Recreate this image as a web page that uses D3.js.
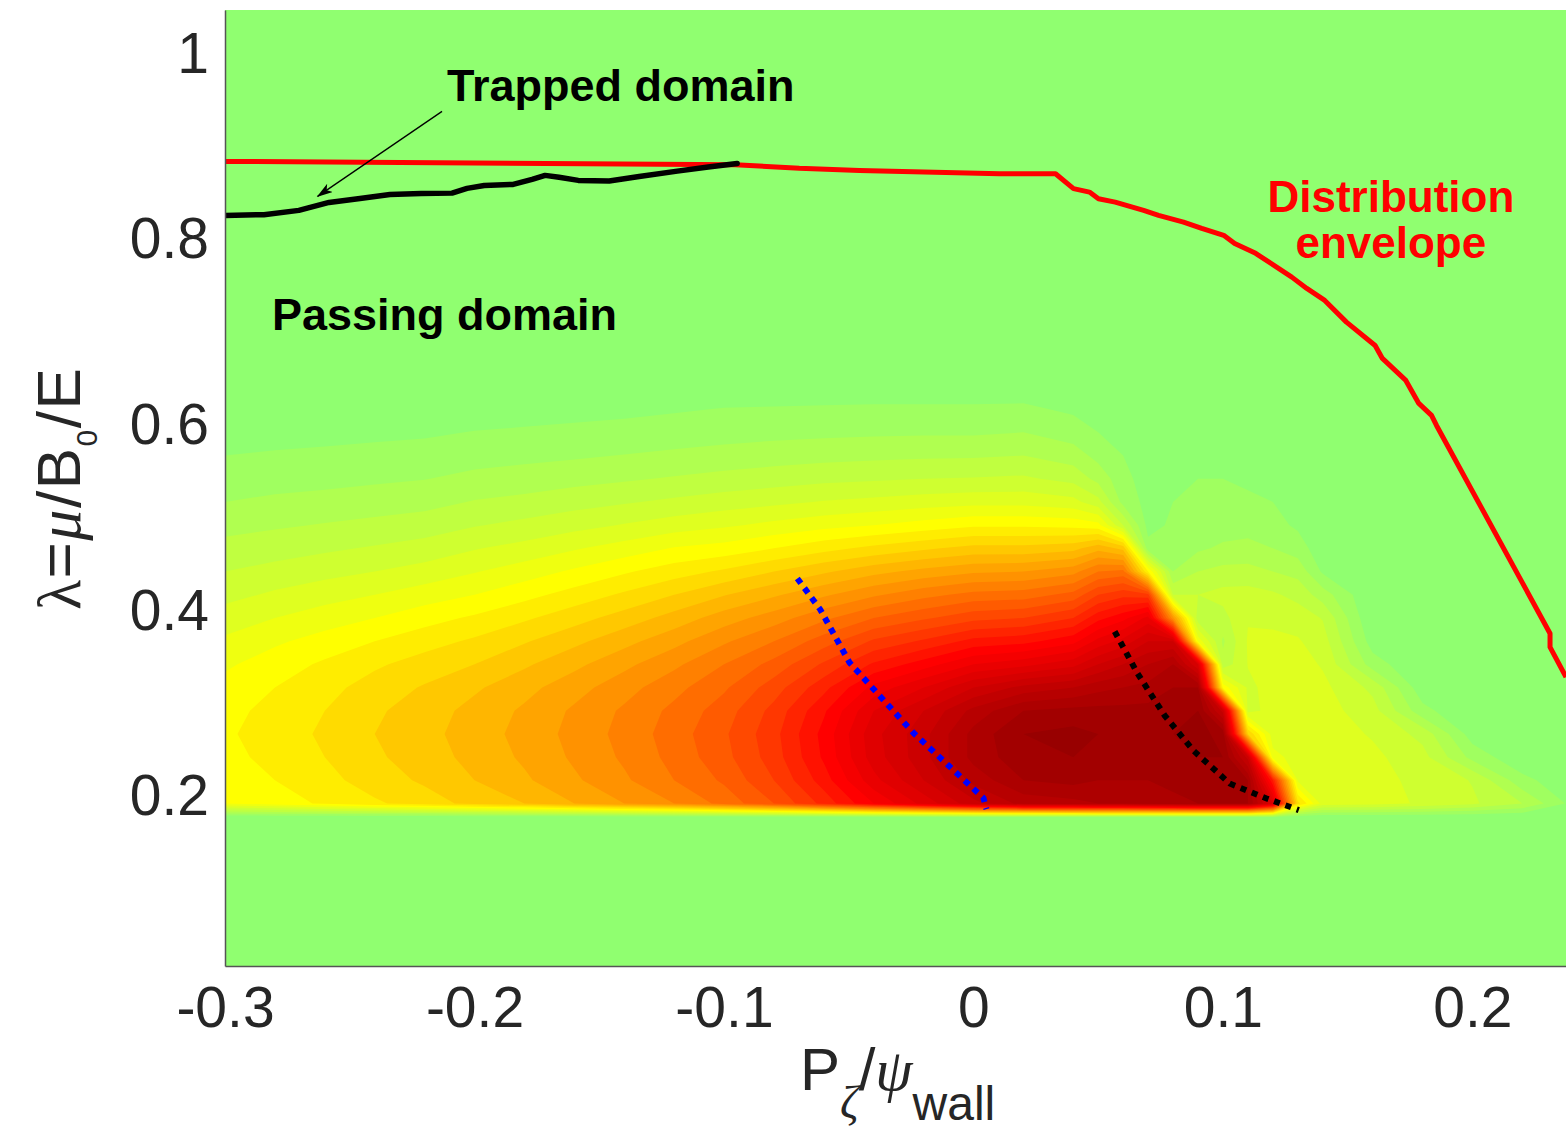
<!DOCTYPE html>
<html>
<head>
<meta charset="utf-8">
<script src="https://cdn.jsdelivr.net/npm/d3@7"></script>
<style>
  body { margin: 0; background: #fff; }
  svg { display: block; }
  text { font-family: "Liberation Sans", Arial, Helvetica, sans-serif; }
</style>
</head>
<body>
<svg id="chart" width="1566" height="1129"></svg>
<script>
// ---- axis ticks ----
const xTicks = [-0.3, -0.2, -0.1, 0, 0.1, 0.2];
const yTicks = [0.2, 0.4, 0.6, 0.8, 1];

// ---- sampled distribution f(P_zeta, lambda) ----
// P_zeta / psi_wall sample positions (columns)
const pGrid = [-0.30, -0.28, -0.26, -0.24, -0.22, -0.20, -0.18, -0.16, -0.14, -0.12,
               -0.10, -0.08, -0.06, -0.04, -0.02, 0.00, 0.02, 0.04, 0.05, 0.06,
                0.07, 0.08, 0.09, 0.10, 0.11, 0.12, 0.13, 0.14, 0.16, 0.18,
                0.20, 0.22, 0.24];
// lambda sample positions (rows, ascending)
const lambdaGrid = [0.19, 0.215, 0.24, 0.265, 0.29, 0.315, 0.34, 0.365, 0.39, 0.415,
                    0.44, 0.465, 0.49, 0.515, 0.54, 0.565, 0.59, 0.615, 0.64];
// below this lambda the distribution vanishes
const lambdaCut = 0.175;

// normalised distribution, one array per P column, lambda ascending
const density = [
  [0.21,0.22,0.23,0.235,0.23,0.22,0.205,0.185,0.165,0.14,0.12,0.10,0.08,0.06,0.045,0.03,0.018,0.008,0],
  [0.225,0.24,0.25,0.255,0.25,0.24,0.225,0.205,0.18,0.155,0.13,0.107,0.086,0.066,0.048,0.033,0.02,0.009,0],
  [0.245,0.26,0.27,0.275,0.27,0.26,0.245,0.222,0.195,0.168,0.14,0.115,0.092,0.07,0.051,0.035,0.022,0.01,0],
  [0.265,0.285,0.295,0.30,0.295,0.283,0.265,0.24,0.21,0.18,0.15,0.123,0.098,0.075,0.055,0.038,0.024,0.011,0],
  [0.285,0.305,0.315,0.32,0.315,0.303,0.283,0.258,0.228,0.195,0.162,0.132,0.105,0.08,0.059,0.041,0.026,0.012,0],
  [0.31,0.33,0.34,0.345,0.34,0.325,0.30,0.275,0.245,0.21,0.178,0.148,0.118,0.092,0.068,0.048,0.031,0.015,0],
  [0.33,0.355,0.365,0.37,0.365,0.35,0.325,0.297,0.265,0.23,0.195,0.16,0.128,0.099,0.073,0.052,0.034,0.017,0.002],
  [0.36,0.385,0.395,0.40,0.395,0.378,0.352,0.322,0.288,0.252,0.215,0.177,0.14,0.108,0.08,0.056,0.037,0.02,0.004],
  [0.39,0.415,0.425,0.43,0.425,0.408,0.382,0.35,0.313,0.275,0.236,0.193,0.152,0.117,0.086,0.061,0.04,0.023,0.006],
  [0.42,0.45,0.46,0.465,0.458,0.44,0.413,0.38,0.342,0.30,0.256,0.212,0.165,0.126,0.093,0.066,0.044,0.027,0.01],
  [0.46,0.485,0.50,0.505,0.495,0.475,0.45,0.415,0.375,0.328,0.275,0.222,0.175,0.135,0.10,0.071,0.048,0.031,0.013],
  [0.51,0.54,0.555,0.56,0.55,0.525,0.49,0.45,0.405,0.355,0.30,0.24,0.188,0.143,0.106,0.076,0.051,0.032,0.014],
  [0.58,0.615,0.635,0.64,0.625,0.59,0.545,0.495,0.443,0.385,0.325,0.26,0.20,0.152,0.112,0.08,0.053,0.033,0.015],
  [0.66,0.71,0.735,0.74,0.72,0.67,0.605,0.545,0.48,0.415,0.35,0.278,0.21,0.158,0.116,0.083,0.055,0.034,0.015],
  [0.73,0.78,0.80,0.80,0.78,0.72,0.645,0.575,0.505,0.44,0.37,0.295,0.222,0.165,0.12,0.085,0.056,0.034,0.015],
  [0.80,0.85,0.88,0.88,0.85,0.78,0.69,0.61,0.53,0.46,0.385,0.31,0.235,0.17,0.122,0.086,0.056,0.034,0.015],
  [0.85,0.90,0.92,0.93,0.90,0.82,0.71,0.62,0.54,0.465,0.39,0.31,0.235,0.17,0.125,0.09,0.06,0.035,0.015],
  [0.86,0.91,0.93,0.94,0.91,0.84,0.74,0.65,0.57,0.49,0.41,0.32,0.23,0.16,0.11,0.075,0.045,0.025,0.01],
  [0.87,0.90,0.92,0.93,0.91,0.86,0.78,0.70,0.62,0.54,0.45,0.35,0.22,0.13,0.08,0.05,0.03,0.015,0],
  [0.87,0.90,0.91,0.92,0.91,0.87,0.81,0.73,0.65,0.56,0.46,0.32,0.12,0.05,0.04,0.03,0.02,0.01,0],
  [0.88,0.90,0.91,0.92,0.91,0.88,0.84,0.78,0.70,0.55,0.24,0.04,0.02,0.02,0.015,0.01,0.005,0,0],
  [0.89,0.91,0.92,0.93,0.92,0.90,0.87,0.78,0.40,0.12,0.06,0.04,0.035,0.03,0.025,0.012,0,0,0],
  [0.90,0.92,0.93,0.94,0.93,0.90,0.75,0.20,0.10,0.12,0.09,0.055,0.042,0.036,0.03,0.018,0.005,0,0],
  [0.90,0.92,0.93,0.92,0.80,0.23,0.10,0.085,0.11,0.13,0.10,0.065,0.047,0.037,0.03,0.015,0,0,0],
  [0.90,0.90,0.80,0.30,0.14,0.145,0.151,0.153,0.148,0.132,0.10,0.07,0.047,0.035,0.025,0.01,0,0,0],
  [0.75,0.60,0.19,0.165,0.16,0.158,0.157,0.155,0.145,0.125,0.09,0.06,0.04,0.03,0.015,0,0,0,0],
  [0.28,0.175,0.168,0.167,0.166,0.164,0.162,0.153,0.137,0.11,0.08,0.045,0.025,0.012,0.005,0,0,0,0],
  [0.168,0.168,0.167,0.166,0.163,0.158,0.147,0.134,0.118,0.075,0.025,0.01,0,0,0,0,0,0,0],
  [0.162,0.161,0.157,0.147,0.132,0.112,0.045,0.015,0,0,0,0,0,0,0,0,0,0,0],
  [0.146,0.141,0.131,0.11,0.04,0.01,0,0,0,0,0,0,0,0,0,0,0,0,0],
  [0.125,0.118,0.05,0.015,0,0,0,0,0,0,0,0,0,0,0,0,0,0,0],
  [0.09,0.04,0.005,0,0,0,0,0,0,0,0,0,0,0,0,0,0,0,0],
  [0.02,0.005,0,0,0,0,0,0,0,0,0,0,0,0,0,0,0,0,0]
];

// ---- curves ----
// distribution envelope
const envelopeP = [-0.3004,-0.0955,-0.0698,-0.0457,0.0104,0.0329,0.0401,0.0465,0.0501,0.0568,
                   0.0682,0.0742,0.0842,0.0915,0.1003,0.1047,0.1131,0.1276,0.1336,0.1408,
                   0.1495,0.1610,0.1639,0.1733,0.1785,0.1836,0.1856,0.2311,0.2311,0.2375];
const envelopeL = [0.8819,0.8783,0.8744,0.8722,0.8686,0.8686,0.8525,0.8488,0.8417,0.8380,
                   0.8291,0.8237,0.8165,0.8097,0.8022,0.7935,0.7828,0.7572,0.7450,0.7321,
                   0.7087,0.6836,0.6696,0.6459,0.6211,0.6082,0.5974,0.3733,0.3585,0.3262];
// trapped / passing boundary
const trappedP = [-0.3004,-0.2844,-0.2704,-0.2583,-0.2459,-0.2339,-0.2214,-0.2090,-0.2030,-0.1961,
                  -0.1845,-0.1769,-0.1717,-0.1661,-0.1584,-0.1460,-0.1340,-0.1187,-0.1063,-0.0947];
const trappedL = [0.8237,0.8245,0.8291,0.8377,0.8420,0.8463,0.8474,0.8477,0.8528,0.8560,
                  0.8571,0.8625,0.8668,0.8647,0.8614,0.8607,0.8657,0.8714,0.8758,0.8797];
// dotted guide curves
const blueP = [-0.0706,-0.0614,-0.0497,-0.0369,-0.0240,-0.0100,0.0040,0.0052];
const blueL = [0.4325,0.3990,0.3420,0.3040,0.2660,0.2310,0.1960,0.1840];
const blackP = [0.0566,0.0658,0.0766,0.0882,0.1027,0.1175,0.1304];
const blackL = [0.3754,0.3300,0.2850,0.2470,0.2116,0.1955,0.1830];
// annotation arrow (tail -> head)
const arrowP = [-0.213, -0.2629];
const arrowL = [0.9358, 0.8442];

// ---- layout ----
const W = 1566, H = 1129;
const plot = { left: 225, right: 1566, top: 10, bottom: 966 };
const x = d3.scaleLinear().domain([-0.3, 0.2375]).range([plot.left, plot.right]);
const y = d3.scaleLinear().domain([0.015, 1.045]).range([plot.bottom, plot.top]);
const ink = "#262626";

// colour map: green -> yellow -> red -> dark red
const color = d3.scaleLinear()
  .domain([0, 0.21, 0.63, 1])
  .range(["#90ff70", "#ffff00", "#ff0000", "#800000"])
  .interpolate(d3.interpolateRgb);
const levels = d3.range(1, 33).map(k => +(k * 0.03).toFixed(2));

const svg = d3.select("#chart");
svg.append("rect").attr("width", W).attr("height", H).attr("fill", "#fff");

const defs = svg.append("defs");
defs.append("clipPath").attr("id", "plotClip").append("rect")
  .attr("x", plot.left).attr("y", plot.top)
  .attr("width", plot.right - plot.left).attr("height", plot.bottom - plot.top);
defs.append("marker")
  .attr("id", "arrowHead").attr("viewBox", "0 0 16 10")
  .attr("refX", 15).attr("refY", 5)
  .attr("markerWidth", 16).attr("markerHeight", 10)
  .attr("markerUnits", "userSpaceOnUse").attr("orient", "auto")
  .append("path").attr("d", "M0,0 L16,5 L0,10 L4,5 Z").attr("fill", "#000");

const area = svg.append("g").attr("clip-path", "url(#plotClip)");
area.append("rect")
  .attr("x", plot.left).attr("y", plot.top)
  .attr("width", plot.right - plot.left).attr("height", plot.bottom - plot.top)
  .attr("fill", color(0));

// ---- filled contours ----
const lamRows = [lambdaCut, ...lambdaGrid];
const nx = pGrid.length, ny = lamRows.length;
const values = new Array(nx * ny);
for (let j = 0; j < ny; j++) {
  for (let i = 0; i < nx; i++) {
    values[j * nx + i] = j === 0 ? 0 : density[i][j - 1];
  }
}
const bands = d3.contours().size([nx, ny]).thresholds(levels)(values);
const pIdx = d3.scaleLinear().domain(d3.range(nx)).range(pGrid).clamp(true);
const lIdx = d3.scaleLinear().domain(d3.range(ny)).range(lamRows).clamp(true);
const gridToScreen = d3.geoTransform({
  point(gx, gy) { this.stream.point(x(pIdx(gx - 0.5)), y(lIdx(gy - 0.5))); }
});
const bandPath = d3.geoPath(gridToScreen);
area.append("g").selectAll("path")
  .data(bands)
  .join("path")
  .attr("d", bandPath)
  .attr("fill", d => color(d.value))
  .attr("stroke", "none");

// ---- curves ----
const line = d3.line().x(d => x(d[0])).y(d => y(d[1]));
area.append("path").datum(d3.zip(envelopeP, envelopeL))
  .attr("d", line).attr("fill", "none").attr("stroke", "#ff0000")
  .attr("stroke-width", 5).attr("stroke-linejoin", "round");
area.append("path").datum(d3.zip(trappedP, trappedL))
  .attr("d", line).attr("fill", "none").attr("stroke", "#000")
  .attr("stroke-width", 5.5).attr("stroke-linejoin", "round").attr("stroke-linecap", "round");
area.append("path").datum(d3.zip(blueP, blueL))
  .attr("d", line).attr("fill", "none").attr("stroke", "#0000ff")
  .attr("stroke-width", 6).attr("stroke-dasharray", "6 6");
area.append("path").datum(d3.zip(blackP, blackL))
  .attr("d", line).attr("fill", "none").attr("stroke", "#000")
  .attr("stroke-width", 6).attr("stroke-dasharray", "6 6");
area.append("path").datum(d3.zip(arrowP, arrowL))
  .attr("d", line).attr("fill", "none").attr("stroke", "#000")
  .attr("stroke-width", 1.3).attr("marker-end", "url(#arrowHead)");

// ---- annotations ----
const notes = svg.append("g").attr("font-weight", "bold");
notes.append("text").attr("x", x(-0.211)).attr("y", y(0.9466)).attr("font-size", 45)
  .attr("fill", "#000").text("Trapped domain");
notes.append("text").attr("x", x(-0.2812)).attr("y", y(0.6998)).attr("font-size", 45)
  .attr("fill", "#000").text("Passing domain");
notes.append("text").attr("x", x(0.1673)).attr("y", y(0.8269)).attr("font-size", 44)
  .attr("fill", "#ff0000").attr("text-anchor", "middle").text("Distribution");
notes.append("text").attr("x", x(0.1673)).attr("y", y(0.7774)).attr("font-size", 44)
  .attr("fill", "#ff0000").attr("text-anchor", "middle").text("envelope");

// ---- axes ----
const fmt = d => (d === 0 ? "0" : String(d));
const gx = svg.append("g").attr("transform", `translate(0,${plot.bottom})`)
  .call(d3.axisBottom(x).tickValues(xTicks).tickFormat(fmt).tickSize(0).tickSizeOuter(0).tickPadding(21));
const gy = svg.append("g").attr("transform", `translate(${plot.left},0)`)
  .call(d3.axisLeft(y).tickValues(yTicks).tickFormat(fmt).tickSize(0).tickSizeOuter(0).tickPadding(16));
[gx, gy].forEach(g => {
  g.attr("font-family", null).attr("font-size", null);
  g.select(".domain").attr("stroke", "#555").attr("stroke-width", 1.5);
  g.selectAll("text").attr("font-size", 57).attr("fill", ink);
});
gy.selectAll("text").attr("dy", "0.36em");

// x-axis label: P_zeta / psi_wall
const xl = svg.append("text").attr("x", 800).attr("y", 1090).attr("fill", ink).attr("font-size", 60);
xl.append("tspan").text("P");
xl.append("tspan").attr("font-family", "'Liberation Serif', 'Times New Roman', serif")
  .attr("font-style", "italic").attr("font-size", 46).attr("dy", 28).text("ζ");
xl.append("tspan").attr("dy", -28).text("/");
xl.append("tspan").attr("font-family", "'Liberation Serif', 'Times New Roman', serif")
  .attr("font-style", "italic").text("ψ");
xl.append("tspan").attr("font-size", 48).attr("dy", 30).text("wall");

// y-axis label: lambda = mu / B_0 / E
const yl = svg.append("text").attr("transform", "translate(80,610) rotate(-90)")
  .attr("fill", ink).attr("font-size", 62).attr("letter-spacing", 1.5);
yl.append("tspan").attr("font-family", "'Liberation Serif', 'Times New Roman', serif").text("λ");
yl.append("tspan").text("=");
yl.append("tspan").attr("font-family", "'Liberation Serif', 'Times New Roman', serif")
  .attr("font-style", "italic").text("μ");
yl.append("tspan").text("/B");
yl.append("tspan").attr("font-size", 30).attr("dy", 17).text("0");
yl.append("tspan").attr("dy", -17).text("/E");
</script>
</body>
</html>
